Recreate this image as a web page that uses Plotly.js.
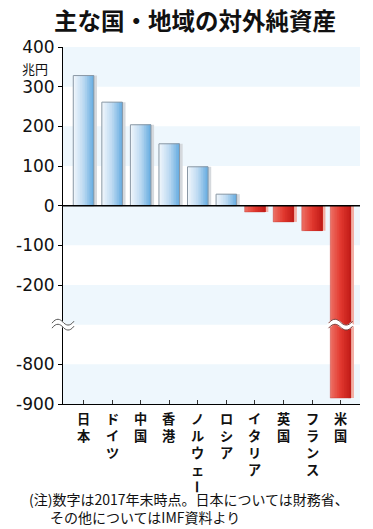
<!DOCTYPE html>
<html>
<head>
<meta charset="utf-8">
<script src="https://cdn.plot.ly/plotly-3.0.1.min.js"></script>
<style>
  html, body { margin: 0; padding: 0; background: #fff; }
  #chart { width: 373px; height: 529px; }
</style>
</head>
<body>
<div id="chart"></div>
<script>
// ---- data ----
const categories = ['日本', 'ドイツ', '中国', '香港', 'ノルウェー', 'ロシア', 'イタリア', '英国', 'フランス', '米国'];
const netAssets = [328, 261, 204, 156, 98, 29, -16, -41, -63, -885];   // 兆円
const yTickLabels = [400, 300, 200, 100, 0, -100, -200, -800, -900];
const unitLabel = '兆円';
const titleText = '主な国・地域の対外純資産';
const noteLines = ['(注)数字は2017年末時点。日本については財務省、', 'その他についてはIMF資料より'];

// ---- broken axis: values below -300 are shifted up by 400 ----
const BREAK_AT = -300, SHIFT = 400;
const mapY = v => (v <= BREAK_AT ? v + SHIFT : v);
const yMapped = netAssets.map(mapY);

const FONT_JP = '"Noto Sans CJK JP", "Noto Sans", sans-serif';
const FONT_NUM = '"DejaVu Sans", sans-serif';

function hexToRgb(h) { h = h.replace('#', ''); return [0, 2, 4].map(i => parseInt(h.substr(i, 2), 16)); }
function ramp(stops, t) {
  const n = stops.length - 1;
  const seg = Math.min(n - 1, Math.floor(t * n));
  const lt = t * n - seg;
  const a = hexToRgb(stops[seg]), b = hexToRgb(stops[seg + 1]);
  const c = a.map((v, i) => Math.round(v + (b[i] - v) * lt));
  return 'rgb(' + c.join(',') + ')';
}
const blueStops = ['#eef5fb', '#bcdaf2', '#6aaee1'];
const redStops = ['#ec6d62', '#e2392f', '#c21d19'];

const W = 0.72;          // bar width in category units
const N = 12;            // gradient strips
const traces = [];

// shadow
traces.push({
  type: 'bar', x: categories, y: yMapped, width: W, offset: -W / 2 + 0.11,
  marker: { color: netAssets.map(v => v > 0 ? '#d5d9dd' : '#f3b0a6'), line: { width: 0 } },
  hoverinfo: 'skip', showlegend: false
});
// gradient strips (each strip extends to the right edge; later strips cover the right part)
for (let k = 0; k < N; k++) {
  const t = k / (N - 1);
  const start = -W / 2 + k * W / N;
  traces.push({
    type: 'bar', x: categories, y: yMapped, width: W / 2 - start, offset: start,
    marker: { color: netAssets.map(v => v > 0 ? ramp(blueStops, t) : ramp(redStops, t)), line: { width: 0 } },
    hoverinfo: 'skip', showlegend: false
  });
}
// outline
traces.push({
  type: 'bar', x: categories, y: yMapped, width: W, offset: -W / 2,
  marker: { color: 'rgba(0,0,0,0)', line: { width: 1, color: netAssets.map(v => v > 0 ? '#8a98a5' : 'rgba(190,40,35,0.35)') } },
  hoverinfo: 'skip', showlegend: false
});

// ---- background bands (alternate every 100 on the mapped scale) ----
const shapes = [];
const mappedTicks = yTickLabels.map(mapY);
const yMin = Math.min(...mappedTicks), yMax = Math.max(...mappedTicks);
for (let b = yMax; b > yMin; b -= 200) {
  shapes.push({ type: 'rect', xref: 'paper', yref: 'y', x0: 0, x1: 1, y0: b - 100, y1: b,
    fillcolor: '#eef7fd', line: { width: 0 }, layer: 'below' });
}
// zero line
shapes.push({ type: 'line', xref: 'paper', yref: 'y', x0: 0, x1: 1, y0: 0, y1: 0,
  line: { color: '#000', width: 1.5 }, layer: 'above' });

// ---- break marks ----
function wave(half, dy) {
  const h = half;
  return 'M' + (-h) + ',' + (-1 + dy) + ' C' + (-h * 0.6) + ',' + (5 + dy) + ' ' + (-h * 0.25) + ',' + (3 + dy) + ' 0,' + dy +
         ' C' + (h * 0.25) + ',' + (-3 + dy) + ' ' + (h * 0.6) + ',' + (-5 + dy) + ' ' + h + ',' + (1 + dy);
}
function breakMark(xref, xanchor, half, edgeColor, gap) {
  const base = { type: 'path', xref: xref, yref: 'y', xsizemode: 'pixel', ysizemode: 'pixel',
    xanchor: xanchor, yanchor: BREAK_AT, layer: 'above' };
  shapes.push(Object.assign({}, base, { path: wave(half, 0), line: { color: '#fff', width: gap } }));
  shapes.push(Object.assign({}, base, { path: wave(half, gap / 2), line: { color: edgeColor, width: 1 } }));
  shapes.push(Object.assign({}, base, { path: wave(half, -gap / 2), line: { color: edgeColor, width: 1 } }));
}
breakMark('paper', 0, 11, '#555', 5);
breakMark('x', categories.length - 1, 12, '#7a3a36', 5);

// ---- annotations ----
const annotations = [];
// vertical category labels: runs of characters stacked with <br>; the long-vowel mark is turned upright
const FS = 13.2;
const PITCH = 1.3 * FS;          // Plotly's line spacing
const FIRST = 14.5;              // px below the plot bottom to the first character centre
categories.forEach((c, i) => {
  const chars = Array.from(c);
  let j = 0;
  while (j < chars.length) {
    let k = j;
    const rotate = chars[j] === 'ー';
    if (rotate) k = j + 1; else { while (k < chars.length && chars[k] !== 'ー') k++; }
    const run = chars.slice(j, k);
    annotations.push({
      xref: 'x', yref: 'paper', x: i, y: 0, xanchor: 'center', yanchor: 'middle',
      yshift: -(FIRST + (j + (run.length - 1) / 2) * PITCH), showarrow: false,
      text: run.join('<br>'), textangle: rotate ? 90 : 0,
      font: { family: FONT_JP, size: FS, color: '#111', weight: 'bold' }
    });
    j = k;
  }
});
// unit
annotations.push({ xref: 'paper', yref: 'paper', x: -0.044, y: 0.941, xanchor: 'right', yanchor: 'middle',
  showarrow: false, text: unitLabel, font: { family: FONT_JP, size: 13, color: '#111' } });
// note (second line indented under the text after "(注)")
annotations.push({ xref: 'paper', yref: 'paper', x: -0.122, y: -0.2913, xanchor: 'left', yanchor: 'middle',
  align: 'left', showarrow: false,
  text: noteLines[0] + '<br>\u3000\u2002' + noteLines[1],
  font: { family: FONT_JP, size: 14, color: '#111' } });

const layout = {
  width: 373, height: 529,
  margin: { l: 63, r: 13, t: 47, b: 125 },
  paper_bgcolor: '#fff', plot_bgcolor: '#fff',
  barmode: 'overlay',
  title: { text: titleText, xref: 'container', yref: 'container', x: 0.523, y: 0.958,
    xanchor: 'center', yanchor: 'middle',
    font: { family: FONT_JP, size: 23.5, color: '#111', weight: 'bold' } },
  xaxis: {
    type: 'category', range: [-0.72, categories.length - 1 + 0.68],
    showticklabels: false, ticks: 'inside', ticklen: 4, tickcolor: '#333', tickwidth: 1,
    showline: true, linecolor: '#000', linewidth: 1, showgrid: false, zeroline: false, fixedrange: true
  },
  yaxis: {
    range: [yMin, yMax], tickmode: 'array', tickvals: mappedTicks, ticktext: yTickLabels.map(String),
    ticks: 'outside', ticklen: 4, tickcolor: '#000', tickwidth: 1,
    showline: true, linecolor: '#000', linewidth: 1, showgrid: false, zeroline: false,
    tickfont: { family: FONT_NUM, size: 17, color: '#111' }, fixedrange: true
  },
  shapes: shapes,
  annotations: annotations
};

Plotly.newPlot('chart', traces, layout, { staticPlot: true, displayModeBar: false });
</script>
</body>
</html>
